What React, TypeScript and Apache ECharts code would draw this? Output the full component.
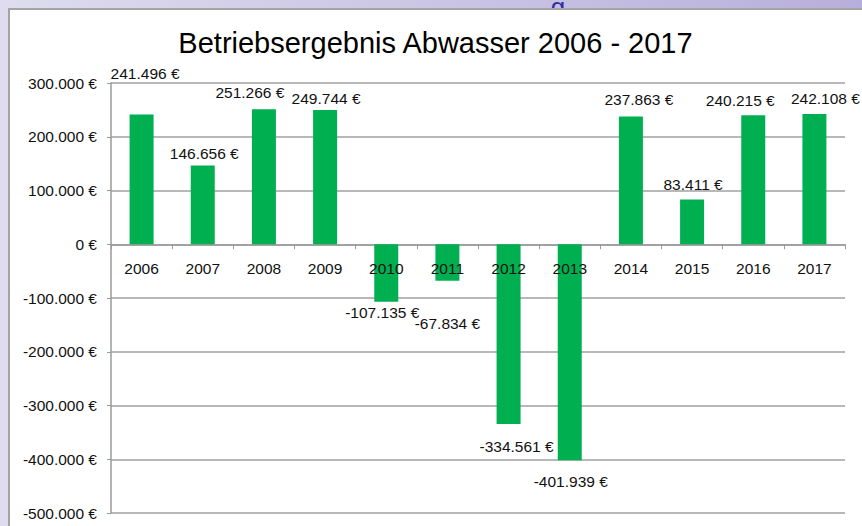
import React, { useEffect, useRef } from "react";
import * as echarts from "echarts";

const categories = ["2006", "2007", "2008", "2009", "2010", "2011", "2012", "2013", "2014", "2015", "2016", "2017"];
const values = [241496, 146656, 251266, 249744, -107135, -67834, -334561, -401939, 237863, 83411, 240215, 242108];
const yTicks = { min: -500000, max: 300000, interval: 100000 };
const chartTitle = "Betriebsergebnis Abwasser 2006 - 2017";

// label placement tweaks (style only): [dx, dy] in px
const labelOffsets: number[][] = [
  [3.5, -28], [1.5, 1], [-14, -4], [1, 1], [-4, -2], [0, 30],
  [8, 9], [1, 8], [8, -4], [1, -2], [-13, -2], [11, -3],
];

const FONT = "'Liberation Sans', Arial, sans-serif";

function fmtEuro(v: number): string {
  const s = Math.abs(Math.round(v)).toString().replace(/\B(?=(\d{3})+(?!\d))/g, ".");
  return (v < 0 ? "-" : "") + s + " €";
}

export default function App() {
  const ref = useRef<HTMLDivElement>(null);
  useEffect(() => {
    if (!ref.current) return;
    const chart = echarts.init(ref.current, null, { renderer: "svg" });
    chart.setOption({
      animation: false,
      backgroundColor: "transparent",
      graphic: [
        {
          type: "rect",
          z: -10,
          shape: { x: 0, y: 0, width: 862, height: 526 },
          style: {
            fill: new echarts.graphic.LinearGradient(0, 0, 1, 0, [
              { offset: 0, color: "#dedcee" },
              { offset: 1, color: "#b7afdb" },
            ]),
          },
          silent: true,
        },
        {
          type: "text",
          z: -9,
          style: { x: 558, y: -6, text: "g", font: `26px ${FONT}`, fill: "#2e2e9e", align: "center", verticalAlign: "alphabetic" },
          silent: true,
        },
        {
          type: "rect",
          z: -8,
          shape: { x: 9, y: 9, width: 870, height: 540 },
          style: { fill: "#ffffff", stroke: "#a3a3a3", lineWidth: 2 },
          silent: true,
        },
        {
          type: "text",
          z: 10,
          style: {
            x: 435.5,
            y: 43,
            text: chartTitle,
            font: `29px ${FONT}`,
            fill: "#000000",
            align: "center",
            verticalAlign: "middle",
          },
        },
      ],
      grid: { left: 111, right: 17, top: 83, bottom: 13, containLabel: false, outerBoundsMode: "none" },
      xAxis: {
        type: "category",
        data: categories,
        axisLine: { show: true, onZero: true, lineStyle: { color: "#9a9a9a", width: 1.5 } },
        axisTick: { show: true, length: 5, lineStyle: { color: "#9a9a9a", width: 1 } },
        axisLabel: { show: false },
        splitLine: { show: false },
      },
      yAxis: {
        type: "value",
        min: yTicks.min,
        max: yTicks.max,
        interval: yTicks.interval,
        axisLine: { show: true, lineStyle: { color: "#9a9a9a", width: 1.5 } },
        axisTick: { show: true, length: 4, lineStyle: { color: "#9a9a9a" } },
        axisLabel: {
          color: "#111",
          fontSize: 15.5,
          fontFamily: FONT,
          margin: 14,
          formatter: (v: number) => fmtEuro(v),
        },
        splitLine: { show: true, lineStyle: { color: "#a0a0a0", width: 1.5 } },
      },
      series: [
        {
          type: "bar",
          barWidth: 24,
          itemStyle: { color: "#00b050" },
          label: {
            show: true,
            color: "#111",
            fontSize: 15.5,
            fontFamily: FONT,
            formatter: (p: any) => fmtEuro(p.value),
          },
          data: values.map((v, i) => ({
            value: v,
            label: { position: v >= 0 ? "top" : "bottom", offset: labelOffsets[i] },
          })),
        },
        {
          type: "scatter",
          z: 5,
          symbol: "circle",
          symbolSize: 1,
          silent: true,
          itemStyle: { color: "rgba(0,0,0,0)", opacity: 1 },
          label: {
            show: true,
            position: "bottom",
            distance: 16,
            color: "#111",
            opacity: 1,
            fontSize: 15.5,
            fontFamily: FONT,
            formatter: (p: any) => categories[p.dataIndex],
          },
          data: categories.map((c) => [c, 0]),
        },
      ],
    });
    return () => chart.dispose();
  }, []);
  return <div ref={ref} style={{ position: "absolute", left: 0, top: 0, width: 862, height: 526 }} />;
}
